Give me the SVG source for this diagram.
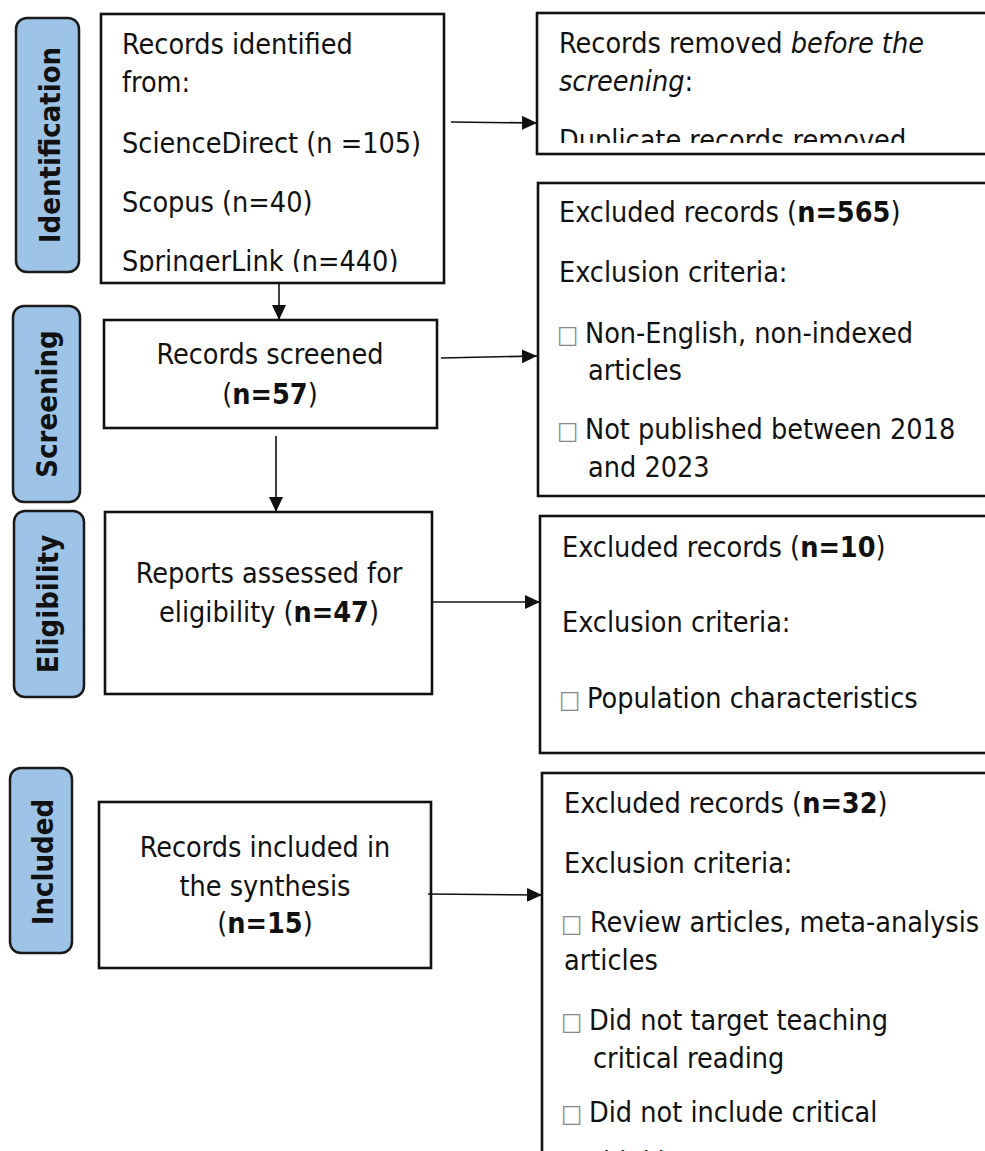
<svg xmlns="http://www.w3.org/2000/svg" width="985" height="1151" viewBox="0 0 985 1151">
<style>
  text { font-family: "DejaVu Sans Condensed", "DejaVu Sans", sans-serif; font-stretch: condensed; font-size: 28.5px; fill: #111; }
  .lab { font-weight: bold; font-size: 29px; text-anchor: middle; }
  .side { fill: #9DC3E6; stroke: #1a1a1a; stroke-width: 2.5; }
  .box { fill: #fff; stroke: #111; stroke-width: 2.6; }
  .c { text-anchor: middle; }
  .b { font-weight: bold; }
  .i { font-style: italic; }
  .sq { fill: #888; font-size: 25px; }
  .con line { stroke: #111; stroke-width: 1.6; fill: none; }
</style>
<defs>
  <marker id="arr" markerUnits="userSpaceOnUse" markerWidth="15" markerHeight="14" refX="15" refY="7" orient="auto">
    <path d="M0,0 L15,7 L0,14 z" fill="#111"/>
  </marker>
  <clipPath id="clip1"><rect x="101" y="14" width="343" height="258"/></clipPath>
  <clipPath id="clipR1"><rect x="537" y="13" width="460" height="130"/></clipPath>
</defs>
<rect width="985" height="1151" fill="#fff"/>

<g id="phase-identification">
  <rect class="side" x="16" y="18" width="63" height="254" rx="11"/>
  <text class="lab" transform="translate(60,145) rotate(-90)">Identification</text>
</g>
<g id="phase-screening">
  <rect class="side" x="13" y="306" width="67" height="196" rx="11"/>
  <text class="lab" transform="translate(57,404) rotate(-90)">Screening</text>
</g>
<g id="phase-eligibility">
  <rect class="side" x="14" y="511" width="70" height="186" rx="11"/>
  <text class="lab" transform="translate(58,604) rotate(-90)">Eligibility</text>
</g>
<g id="phase-included">
  <rect class="side" x="10" y="768" width="62" height="185" rx="11"/>
  <text class="lab" transform="translate(53,862) rotate(-90)">Included</text>
</g>

<g id="node-identified">
  <rect class="box" x="101" y="14" width="343" height="269"/>
  <g clip-path="url(#clip1)">
    <text x="122" y="54">Records identified</text>
    <text x="122" y="92">from:</text>
    <text x="122" y="153">ScienceDirect (n =105)</text>
    <text x="122" y="212">Scopus (n=40)</text>
    <text x="122" y="271">SpringerLink (n=440)</text>
  </g>
</g>

<g id="node-screened">
  <rect class="box" x="104" y="320" width="333" height="108"/>
  <text class="c" x="270" y="364">Records screened</text>
  <text class="c" x="270" y="404">(<tspan class="b">n=57</tspan>)</text>
</g>

<g id="node-assessed">
  <rect class="box" x="105" y="512" width="327" height="182"/>
  <text class="c" x="269" y="583">Reports assessed for</text>
  <text class="c" x="269" y="622">eligibility (<tspan class="b">n=47</tspan>)</text>
</g>

<g id="node-included">
  <rect class="box" x="99" y="802" width="332" height="166"/>
  <text class="c" x="265" y="857">Records included in</text>
  <text class="c" x="265" y="896">the synthesis</text>
  <text class="c" x="265" y="933">(<tspan class="b">n=15</tspan>)</text>
</g>

<g id="node-removed">
  <rect class="box" x="537" y="13" width="460" height="141"/>
  <g clip-path="url(#clipR1)">
    <text x="559" y="53">Records removed <tspan class="i">before the</tspan></text>
    <text x="559" y="91"><tspan class="i">screening</tspan>:</text>
    <text x="559" y="150">Duplicate records removed</text>
  </g>
</g>

<g id="node-excluded-565">
  <rect class="box" x="538" y="183" width="460" height="313"/>
  <text x="559" y="222">Excluded records (<tspan class="b">n=565</tspan>)</text>
  <text x="559" y="282">Exclusion criteria:</text>
  <text y="343"><tspan class="sq" x="557">□</tspan><tspan x="585">Non-English, non-indexed</tspan></text>
  <text x="588" y="380">articles</text>
  <text y="439"><tspan class="sq" x="557">□</tspan><tspan x="585">Not published between 2018</tspan></text>
  <text x="588" y="477">and 2023</text>
</g>

<g id="node-excluded-10">
  <rect class="box" x="540" y="516" width="460" height="237"/>
  <text x="562" y="557">Excluded records (<tspan class="b">n=10</tspan>)</text>
  <text x="562" y="632">Exclusion criteria:</text>
  <text y="708"><tspan class="sq" x="559">□</tspan><tspan x="587">Population characteristics</tspan></text>
</g>

<g id="node-excluded-32">
  <rect class="box" x="542" y="773" width="460" height="400"/>
  <text x="564" y="813">Excluded records (<tspan class="b">n=32</tspan>)</text>
  <text x="564" y="873">Exclusion criteria:</text>
  <text y="932"><tspan class="sq" x="561">□</tspan><tspan x="590">Review articles, meta-analysis</tspan></text>
  <text x="564" y="970">articles</text>
  <text y="1030"><tspan class="sq" x="561">□</tspan><tspan x="589">Did not target teaching</tspan></text>
  <text x="593" y="1068">critical reading</text>
  <text y="1122"><tspan class="sq" x="561">□</tspan><tspan x="589">Did not include critical</tspan></text>
  <text x="593" y="1172">thinking</text>
</g>

<g id="connectors" class="con">
  <line x1="451" y1="122" x2="537" y2="123" marker-end="url(#arr)"/>
  <line x1="279" y1="283" x2="279" y2="320" marker-end="url(#arr)"/>
  <line x1="441" y1="358" x2="537" y2="356" marker-end="url(#arr)"/>
  <line x1="276" y1="436" x2="276" y2="512" marker-end="url(#arr)"/>
  <line x1="433" y1="602" x2="540" y2="602" marker-end="url(#arr)"/>
  <line x1="428" y1="894" x2="542" y2="895" marker-end="url(#arr)"/>
</g>
</svg>
